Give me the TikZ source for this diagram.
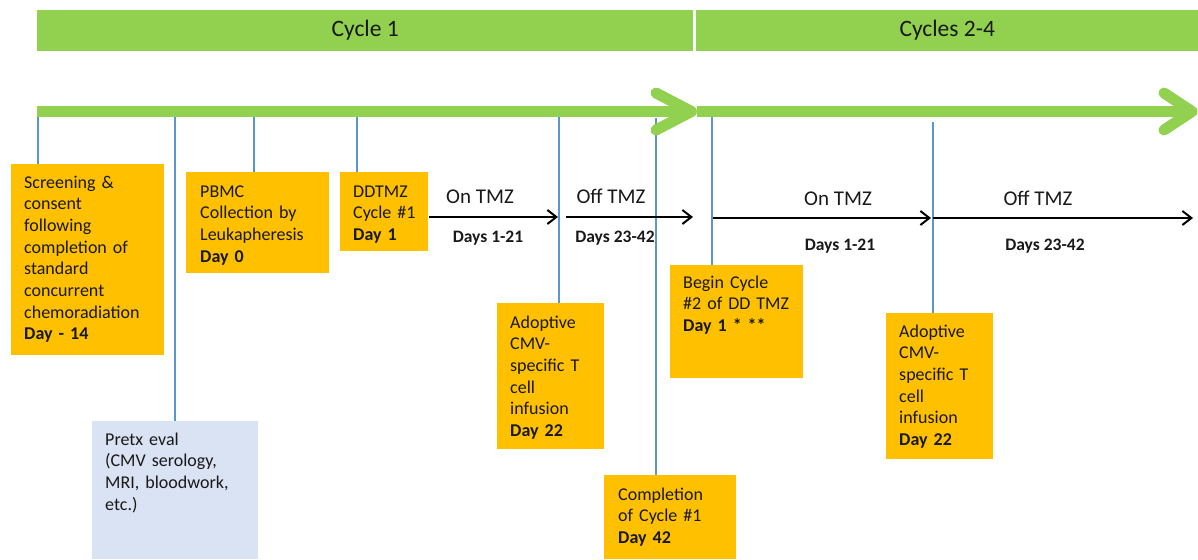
\documentclass[tikz,border=0pt]{standalone}
\usepackage{fontspec}
\setmainfont{Carlito}
\usetikzlibrary{arrows.meta}
\definecolor{cgreen}{RGB}{146,208,80}
\definecolor{corange}{RGB}{255,192,0}
\definecolor{cpale}{RGB}{218,227,243}
\definecolor{cblue}{RGB}{91,150,210}
\definecolor{ctext}{RGB}{25,25,25}
\begin{document}
\begin{tikzpicture}[x=1pt,y=-1pt,
  bar/.style={fill=cgreen,draw=none,anchor=north west,inner sep=0pt,text=ctext,font=\fontsize{23.5}{28}\selectfont},
  obox/.style={fill=corange,draw=none,anchor=north west,inner sep=0pt},
  pbox/.style={fill=cpale,draw=none,anchor=north west,inner sep=0pt},
  btext/.style={anchor=base west,inner sep=0pt,text width=160pt,align=left,text=ctext,font=\fontsize{18}{21.7}\selectfont},
  lbl/.style={anchor=base,inner sep=0pt,text=ctext,font=\fontsize{21}{25}\selectfont},
  dlbl/.style={anchor=base,inner sep=0pt,text=ctext,font=\fontsize{17.5}{21}\selectfont\bfseries},
  vline/.style={draw=cblue,line width=1.5pt},
  gline/.style={draw=cgreen,line width=11pt},
  garrow/.style={draw=cgreen,line width=11pt,line cap=round,line join=round},
  tarrow/.style={draw=black,line width=2pt,-{Straight Barb[length=9pt,width=14pt,line width=2pt]}}
]
\useasboundingbox (0,0) rectangle (1198,559);

% top bars
\node[bar,minimum width=656pt,minimum height=41pt] (bar1) at (37,10) {Cycle 1};
\node[bar,minimum width=502pt,minimum height=41pt] (bar2) at (696,10) {Cycles 2-4};

% boxes
\node[obox,minimum width=153pt,minimum height=191pt] (A) at (11,164) {};
\node[btext] (At) at (24,188) {Screening \&\\consent\\following\\completion of\\standard\\concurrent\\chemoradiation\\\textbf{Day - 14}};
\node[obox,minimum width=143pt,minimum height=101pt] (B) at (186,172) {};
\node[btext] (Bt) at (200,197) {PBMC\\Collection by\\Leukapheresis\\\textbf{Day 0}};
\node[obox,minimum width=88pt,minimum height=79pt] (C) at (340,172) {};
\node[btext] (Ct) at (353,197) {DDTMZ\\Cycle \#1\\\textbf{Day 1}};
\node[pbox,minimum width=166pt,minimum height=138pt] (D) at (92,421) {};
\node[btext] (Dt) at (105,445) {Pretx eval\\(CMV serology,\\MRI, bloodwork,\\etc.)};
\node[obox,minimum width=107pt,minimum height=146pt] (E) at (497,303) {};
\node[btext] (Et) at (510,328) {Adoptive\\CMV-\\specific T\\cell\\infusion\\\textbf{Day 22}};
\node[obox,minimum width=132pt,minimum height=84pt] (F) at (604,475) {};
\node[btext] (Ft) at (618,500) {Completion\\of Cycle \#1\\\textbf{Day 42}};
\node[obox,minimum width=133pt,minimum height=113pt] (G) at (670,265) {};
\node[btext] (Gt) at (683,288) {Begin Cycle\\\#2 of DD TMZ\\\textbf{Day 1 * **}};
\node[obox,minimum width=107pt,minimum height=146pt] (H) at (886,313) {};
\node[btext] (Ht) at (899,337) {Adoptive\\CMV-\\specific T\\cell\\infusion\\\textbf{Day 22}};

% timeline tick coordinates
\coordinate (t1) at (38,117);
\coordinate (t2) at (175,117);
\coordinate (t3) at (254,117);
\coordinate (t4) at (357,117);
\coordinate (t5) at (559,117);
\coordinate (t6) at (656,118);
\coordinate (t7) at (712,117);
\coordinate (t8) at (933,122);

\draw[vline] (t1) -- (t1 |- A.north);
\draw[vline] (t2) -- (t2 |- D.north);
\draw[vline] (t3) -- (t3 |- B.north);
\draw[vline] (t4) -- (t4 |- C.north);
\draw[vline] (t5) -- (t5 |- E.north);
\draw[vline] (t6) -- (t6 |- F.north);
\draw[vline] (t7) -- (t7 |- G.north);
\draw[vline] (t8) -- (t8 |- H.north);

% green timeline arrows
\coordinate (g0) at (37,111.5);
\coordinate (g1) at (691.5,111.5);
\coordinate (g1a) at (656,93);
\coordinate (g1b) at (656,130);
\coordinate (g2) at (697,111.5);
\coordinate (g3) at (1192,111.5);
\coordinate (g3a) at (1164,93);
\coordinate (g3b) at (1164,130);
\draw[gline] (g0) -- (g1);
\draw[garrow] (g1a) -- (g1) -- (g1b);
\draw[gline] (g2) -- (g3);
\draw[garrow] (g3a) -- (g3) -- (g3b);

% black phase arrows
\coordinate (a1s) at (429,217);
\coordinate (a1e) at (558,217);
\coordinate (a2s) at (566,217);
\coordinate (a2e) at (693,217);
\coordinate (a3s) at (713,218);
\coordinate (a3e) at (931,218);
\coordinate (a4s) at (933,218);
\coordinate (a4e) at (1193,218);
\draw[tarrow] (a1s) -- (a1e);
\draw[tarrow] (a2s) -- (a2e);
\draw[tarrow] (a3s) -- (a3e);
\draw[tarrow] (a4s) -- (a4e);

\node[lbl] (l1) at (480,203) {On TMZ};
\node[dlbl] (d1) at (488,242) {Days 1-21};
\node[lbl] (l2) at (611,203) {Off TMZ};
\node[dlbl] (d2) at (615,242) {Days 23-42};
\node[lbl] (l3) at (838,205) {On TMZ};
\node[dlbl] (d3) at (840,250) {Days 1-21};
\node[lbl] (l4) at (1038,205) {Off TMZ};
\node[dlbl] (d4) at (1045,250) {Days 23-42};
\end{tikzpicture}
\end{document}
